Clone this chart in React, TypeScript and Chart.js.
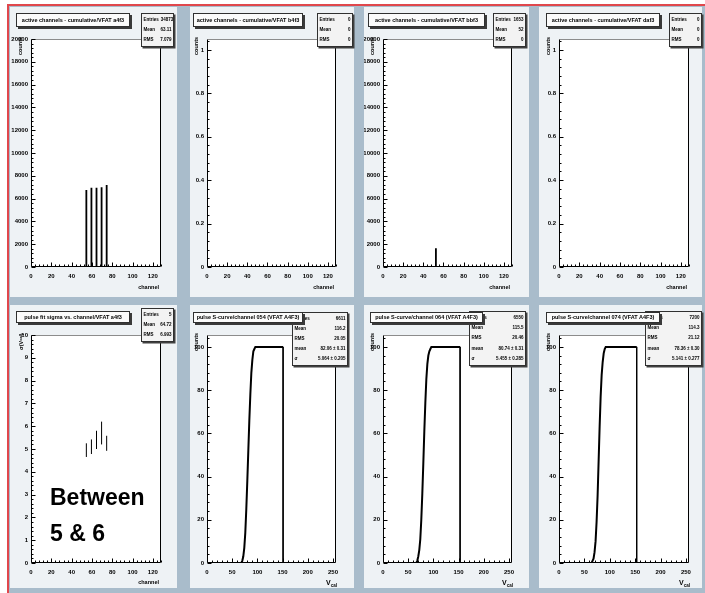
import React, { useEffect, useRef } from 'react';
import { Chart, registerables } from 'chart.js';
Chart.register(...registerables);

const FONT = '"Liberation Sans", Arial, Helvetica, sans-serif';
const GAP = '#a9bccb';
const PAD_BG = '#eef2f5';

// ---------------- data ----------------
const CHANNEL_TICKS = [0, 20, 40, 60, 80, 100, 120];
const COUNT_TICKS = [0, 2000, 4000, 6000, 8000, 10000, 12000, 14000, 16000, 18000, 20000];
const EMPTY_TICKS = [0, 0.2, 0.4, 0.6, 0.8, 1];
const SIGMA_TICKS = [0, 1, 2, 3, 4, 5, 6, 7, 8, 9, 10];
const VCAL_TICKS = [0, 50, 100, 150, 200, 250];
const SCURVE_TICKS = [0, 20, 40, 60, 80, 100];

const A4F3_CHANNELS = [54, 59, 64, 69, 74];
const A4F3_COUNTS = [6750, 6950, 6950, 7000, 7200];
const BBF3_CHANNELS = [52];
const BBF3_COUNTS = [1653];

const SIGMA_CHANNELS = [54, 59, 64, 69, 74];
const SIGMA_VALUES = [4.95, 5.1, 5.4, 5.7, 5.25];
const SIGMA_ERRORS = [0.3, 0.32, 0.4, 0.5, 0.33];

const SC054_V = [16, 68, 70, 72, 74, 76, 78, 80, 82, 84, 86, 88, 90, 92, 94, 96, 98, 151];
const SC054_N = [0, 0, 1, 3, 7, 14, 25, 38, 52, 66, 78, 88, 94, 98, 99, 100, 100, 100];
const SC064_V = [10, 66, 68, 70, 72, 74, 76, 78, 80, 82, 84, 86, 88, 90, 92, 94, 96, 153];
const SC064_N = [0, 0, 1, 3, 6, 11, 20, 32, 46, 61, 74, 85, 92, 96, 98, 99, 100, 100];
const SC074_V = [8, 64, 66, 68, 70, 72, 74, 76, 78, 80, 82, 84, 86, 88, 90, 92, 94, 153];
const SC074_N = [0, 0, 1, 2, 5, 10, 19, 31, 47, 63, 77, 87, 93, 97, 99, 100, 100, 100];

// ---------------- dataset builders ----------------
function spikes(ch: number[], vals: number[]) {
  const d: any[] = [];
  ch.forEach((c, i) => {
    d.push({ x: c + 0.5, y: 0 }, { x: c + 0.5, y: vals[i] }, { x: c + 0.5, y: null });
  });
  return [{ data: d, showLine: true, spanGaps: false, borderColor: '#000', borderWidth: 1.8, pointRadius: 0 }];
}
function errorBars(ch: number[], vals: number[], errs: number[]) {
  const d: any[] = [];
  ch.forEach((c, i) => {
    d.push({ x: c + 0.5, y: vals[i] - errs[i] }, { x: c + 0.5, y: vals[i] + errs[i] }, { x: c + 0.5, y: null });
  });
  return [{ data: d, showLine: true, spanGaps: false, borderColor: '#000', borderWidth: 1, pointRadius: 0 }];
}
function scurve(v: number[], n: number[]) {
  const last = v.length - 1;
  return [
    { data: v.map((x, i) => ({ x, y: n[i] })), showLine: true, borderColor: '#000', borderWidth: 2, pointRadius: 0, tension: 0 },
    { data: [{ x: v[last], y: n[last] }, { x: v[last], y: 0 }], showLine: true, borderColor: '#000', borderWidth: 1, pointRadius: 0 },
  ];
}

// ---------------- layout ----------------
const COLS = [
  { pad: [10, 167], frame: [31, 161] },
  { pad: [190, 164], frame: [207, 336] },
  { pad: [364, 165], frame: [383, 512] },
  { pad: [539, 163], frame: [559, 689] },
];
const ROWS = [
  { pad: [7, 290], frame: [39, 267], xTitleY: 284 },
  { pad: [305, 283], frame: [335, 563], xTitleY: 579 },
];

const hist = (col: number, row: number) => ({ col, row });

const PANELS: any[] = [
  {
    ...hist(0, 0), title: 'active channels - cumulative/VFAT a4f3', tBox: [16, 13, 114, 14],
    sBox: [141, 13, 33, 34], stats: [['Entries', '34873'], ['Mean', '63.11'], ['RMS', '7.079']],
    xMin: 0, xMax: 128, xTicks: CHANNEL_TICKS, xMinor: 4, yMin: 0, yMax: 20000, yTicks: COUNT_TICKS, yMinor: 400,
    datasets: spikes(A4F3_CHANNELS, A4F3_COUNTS), yTitle: 'counts', xTitle: 'channel',
  },
  {
    ...hist(1, 0), title: 'active channels - cumulative/VFAT b4f3', tBox: [193, 13, 110, 14],
    sBox: [317, 13, 36, 34], stats: [['Entries', '0'], ['Mean', '0'], ['RMS', '0']],
    xMin: 0, xMax: 128, xTicks: CHANNEL_TICKS, xMinor: 4, yMin: 0, yMax: 1.05, yTicks: EMPTY_TICKS, yMinor: 0.04,
    datasets: [], yTitle: 'counts', xTitle: 'channel',
  },
  {
    ...hist(2, 0), title: 'active channels - cumulative/VFAT bbf3', tBox: [368, 13, 117, 14],
    sBox: [493, 13, 33, 34], stats: [['Entries', '1653'], ['Mean', '52'], ['RMS', '0']],
    xMin: 0, xMax: 128, xTicks: CHANNEL_TICKS, xMinor: 4, yMin: 0, yMax: 20000, yTicks: COUNT_TICKS, yMinor: 400,
    datasets: spikes(BBF3_CHANNELS, BBF3_COUNTS), yTitle: 'counts', xTitle: 'channel',
  },
  {
    ...hist(3, 0), title: 'active channels - cumulative/VFAT daf3', tBox: [546, 13, 114, 14],
    sBox: [669, 13, 33, 34], stats: [['Entries', '0'], ['Mean', '0'], ['RMS', '0']],
    xMin: 0, xMax: 128, xTicks: CHANNEL_TICKS, xMinor: 4, yMin: 0, yMax: 1.05, yTicks: EMPTY_TICKS, yMinor: 0.04,
    datasets: [], yTitle: 'counts', xTitle: 'channel',
  },
  {
    ...hist(0, 1), title: 'pulse fit sigma vs. channel/VFAT a4f3', tBox: [16, 311, 114, 12],
    sBox: [141, 308, 33, 34], stats: [['Entries', '5'], ['Mean', '64.72'], ['RMS', '6.993']],
    xMin: 0, xMax: 128, xTicks: CHANNEL_TICKS, xMinor: 4, yMin: 0, yMax: 10, yTicks: SIGMA_TICKS, yMinor: 0.2,
    datasets: errorBars(SIGMA_CHANNELS, SIGMA_VALUES, SIGMA_ERRORS), yTitle: 'sigma', xTitle: 'channel',
  },
  {
    ...hist(1, 1), title: 'pulse S-curve/channel 054 (VFAT A4F3)', tBox: [193, 312, 110, 11],
    sBox: [292, 312, 56, 54],
    stats: [['Entries', '6611'], ['Mean', '116.2'], ['RMS', '20.05'], ['mean', '82.06 \u00b1 0.31'], ['\u03c3', '5.064 \u00b1 0.205']],
    xMin: 0, xMax: 256, xTicks: VCAL_TICKS, xMinor: 10, yMin: 0, yMax: 105.5, yTicks: SCURVE_TICKS, yMinor: 4,
    datasets: scurve(SC054_V, SC054_N), yTitle: 'counts', xTitle: 'vcal',
  },
  {
    ...hist(2, 1), title: 'pulse S-curve/channel 064 (VFAT A4F3)', tBox: [370, 312, 113, 11],
    sBox: [469, 311, 57, 55],
    stats: [['Entries', '6550'], ['Mean', '115.5'], ['RMS', '20.46'], ['mean', '80.74 \u00b1 0.31'], ['\u03c3', '5.455 \u00b1 0.285']],
    xMin: 0, xMax: 256, xTicks: VCAL_TICKS, xMinor: 10, yMin: 0, yMax: 105.5, yTicks: SCURVE_TICKS, yMinor: 4,
    datasets: scurve(SC064_V, SC064_N), yTitle: 'counts', xTitle: 'vcal',
  },
  {
    ...hist(3, 1), title: 'pulse S-curve/channel 074 (VFAT A4F3)', tBox: [546, 312, 114, 11],
    sBox: [645, 311, 57, 55],
    stats: [['Entries', '7200'], ['Mean', '114.3'], ['RMS', '21.12'], ['mean', '78.36 \u00b1 0.30'], ['\u03c3', '5.141 \u00b1 0.277']],
    xMin: 0, xMax: 256, xTicks: VCAL_TICKS, xMinor: 10, yMin: 0, yMax: 105.5, yTicks: SCURVE_TICKS, yMinor: 4,
    datasets: scurve(SC074_V, SC074_N), yTitle: 'counts', xTitle: 'vcal',
  },
];

// ---------------- plugin: ROOT-like frame and inward ticks ----------------
const framePlugin = {
  id: 'rootFrame',
  beforeDraw(chart: any) {
    const { ctx, chartArea: a } = chart;
    ctx.save();
    ctx.fillStyle = '#ffffff';
    ctx.fillRect(a.left, a.top, a.right - a.left, a.bottom - a.top);
    ctx.restore();
  },
  afterDraw(chart: any, _args: any, opts: any) {
    const { ctx, chartArea: a, scales } = chart;
    const L = a.left + 0.5, R = a.right - 0.5, T = a.top + 0.5, B = a.bottom - 0.5;
    ctx.save();
    ctx.lineWidth = 1;
    ctx.strokeStyle = '#8c8c8c';
    ctx.beginPath(); ctx.moveTo(L, T); ctx.lineTo(R, T); ctx.stroke();
    ctx.strokeStyle = '#000';
    ctx.beginPath(); ctx.moveTo(R, T); ctx.lineTo(R, B); ctx.stroke();
    ctx.beginPath(); ctx.moveTo(L, T); ctx.lineTo(L, B); ctx.lineTo(R, B); ctx.stroke();
    const drawTicks = (scale: any, step: number, isX: boolean) => {
      const n = Math.floor((scale.max - scale.min) / step + 1e-6);
      for (let i = 0; i <= n; i++) {
        const v = scale.min + i * step;
        const major = scale.ticks.some((t: any) => Math.abs(t.value - v) < step * 1e-3);
        const len = major ? 4 : 2;
        const p = Math.round(scale.getPixelForValue(v)) + 0.5;
        ctx.beginPath();
        if (isX) { ctx.moveTo(p, B); ctx.lineTo(p, B - len); }
        else { ctx.moveTo(L, p); ctx.lineTo(L + len, p); }
        ctx.stroke();
      }
    };
    drawTicks(scales.x, opts.xMinor, true);
    drawTicks(scales.y, opts.yMinor, false);
    ctx.restore();
  },
};

const tickFont = { family: FONT, size: 6, weight: 'bold' as const };

function Panel({ cfg }: { cfg: any }) {
  const ref = useRef<HTMLCanvasElement | null>(null);
  const col = COLS[cfg.col];
  const row = ROWS[cfg.row];
  const [px, pw] = col.pad;
  const [py, ph] = row.pad;
  const [fl, fr] = col.frame;
  const [ft, fb] = row.frame;

  useEffect(() => {
    if (!ref.current) return;
    const chart = new Chart(ref.current, {
      type: 'scatter',
      data: { datasets: cfg.datasets },
      options: {
        animation: false,
        responsive: false,
        devicePixelRatio: 1,
        events: [],
        layout: { padding: { top: ft - py, right: px + pw - fr, left: 0, bottom: 0 } },
        plugins: {
          legend: { display: false },
          tooltip: { enabled: false },
          title: { display: false },
          rootFrame: { xMinor: cfg.xMinor, yMinor: cfg.yMinor },
        } as any,
        scales: {
          x: {
            type: 'linear', min: cfg.xMin, max: cfg.xMax,
            afterBuildTicks: (s: any) => { s.ticks = cfg.xTicks.map((v: number) => ({ value: v })); },
            afterFit: (s: any) => { s.height = py + ph - fb; },
            grid: { display: false, drawTicks: false },
            border: { display: false },
            ticks: { padding: 6, color: '#000', font: tickFont, autoSkip: false, maxRotation: 0, callback: (v: any) => String(v) },
          },
          y: {
            type: 'linear', min: cfg.yMin, max: cfg.yMax,
            afterBuildTicks: (s: any) => { s.ticks = cfg.yTicks.map((v: number) => ({ value: v })); },
            afterFit: (s: any) => { s.width = fl - px; },
            grid: { display: false, drawTicks: false },
            border: { display: false },
            ticks: { padding: 3, color: '#000', font: tickFont, autoSkip: false, callback: (v: any) => String(v) },
          },
        },
      },
      plugins: [framePlugin],
    } as any);
    return () => chart.destroy();
  }, []);

  const [tx, ty, tw, th] = cfg.tBox;
  const [sx, sy, sw, sh] = cfg.sBox;
  const small = { fontFamily: FONT, fontWeight: 700 as const, color: '#000' };

  return (
    <>
      <div style={{ position: 'absolute', left: px, top: py, width: pw, height: ph, background: PAD_BG }} />
      <canvas ref={ref} width={pw} height={ph} style={{ position: 'absolute', left: px, top: py, width: pw, height: ph }} />
      {/* y title */}
      <div style={{ ...small, position: 'absolute', left: fl - 14, top: ft - 2, width: 7, height: 36, fontSize: 5.5, lineHeight: '7px', writingMode: 'vertical-rl', transform: 'rotate(180deg)', textAlign: 'end', whiteSpace: 'nowrap' }}>
        {cfg.yTitle === 'counts' ? 'counts' : (<span>{'\u03c3(V'}<span style={{ fontSize: 4 }}>cal</span>{')'}</span>)}
      </div>
      {/* x title */}
      {cfg.xTitle === 'channel' ? (
        <div style={{ ...small, position: 'absolute', left: fr - 60, top: row.xTitleY, width: 58, height: 7, fontSize: 5.5, lineHeight: '7px', textAlign: 'right' }}>channel</div>
      ) : (
        <div style={{ ...small, position: 'absolute', left: fr - 40, top: row.xTitleY, width: 41, height: 10, fontSize: 7, lineHeight: '8px', textAlign: 'right', whiteSpace: 'nowrap' }}>
          V<span style={{ fontSize: 4.5, position: 'relative', top: 2 }}>cal</span>
        </div>
      )}
      {/* stats box */}
      <div style={{ ...small, position: 'absolute', left: sx, top: sy, width: sw, height: sh, boxSizing: 'border-box', background: '#f3f3f3', border: '1px solid #303030', boxShadow: '1.5px 1.5px 0 #404040', display: 'flex', flexDirection: 'column', justifyContent: 'space-around', padding: '1px 1.5px', fontSize: 4.5 }}>
        {cfg.stats.map((r: string[], i: number) => (
          <div key={i} style={{ display: 'flex', justifyContent: 'space-between', lineHeight: '6px', whiteSpace: 'nowrap', gap: 2 }}>
            <span>{r[0]}</span><span>{r[1]}</span>
          </div>
        ))}
      </div>
      {/* title box */}
      <div style={{ ...small, position: 'absolute', left: tx, top: ty, width: tw, height: th, boxSizing: 'border-box', background: '#fbfbfb', border: '1px solid #303030', boxShadow: '2px 2px 0 #3a3a3a', fontSize: 5.5, lineHeight: `${th - 2}px`, textAlign: 'center', whiteSpace: 'nowrap', overflow: 'hidden' }}>
        {cfg.title}
      </div>
    </>
  );
}

export default function App() {
  return (
    <div style={{ position: 'absolute', left: 0, top: 0, width: 705, height: 593, background: '#ffffff', overflow: 'hidden' }}>
      <div style={{ position: 'absolute', left: 7, top: 4, width: 698, height: 589, boxSizing: 'border-box', background: GAP, borderTop: '2px solid #e0474c', borderLeft: '2px solid #e0474c' }} />
      {PANELS.map((p, i) => <Panel key={i} cfg={p} />)}
      <div style={{ position: 'absolute', left: 50, top: 486, fontFamily: FONT, fontWeight: 700, fontSize: 23, lineHeight: '23px', color: '#000', whiteSpace: 'nowrap' }}>Between</div>
      <div style={{ position: 'absolute', left: 50, top: 522, fontFamily: FONT, fontWeight: 700, fontSize: 23, lineHeight: '23px', color: '#000', whiteSpace: 'nowrap' }}>5 &amp; 6</div>
    </div>
  );
}
